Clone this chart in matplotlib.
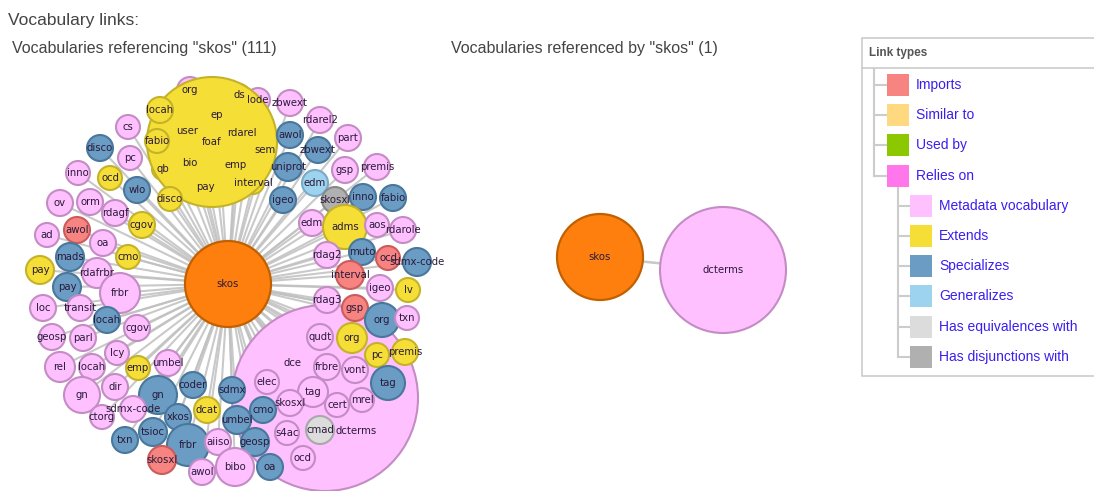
import matplotlib
matplotlib.use("Agg")
import matplotlib.pyplot as plt
from matplotlib.patches import Circle, Rectangle

# ---------------- data ----------------
title_main = "Vocabulary links:"
title_left = 'Vocabularies referencing "skos" (111)'
title_right = 'Vocabularies referenced by "skos" (1)'

legend_labels = ["Imports", "Similar to", "Used by", "Relies on",
                 "Metadata vocabulary", "Extends", "Specializes", "Generalizes",
                 "Has equivalences with", "Has disjunctions with"]
legend_level = [0, 0, 0, 0, 1, 1, 1, 1, 1, 1]
legend_kind = ["I", "S2", "U", "R", "M", "E", "S", "G", "Q", "D"]

fill = {"I": "#f78480", "S2": "#ffd97f", "U": "#8cc800", "R": "#ff77ea",
        "M": "#ffc0ff", "E": "#f5df36", "S": "#6a9cc4", "G": "#9dd3ee",
        "Q": "#dcdcdc", "D": "#b0b0b0", "O": "#ff7f0e"}
edge = {"I": "#cc5c5c", "M": "#c48cc4", "E": "#c4b22a", "S": "#4a779c",
        "G": "#7aaac6", "Q": "#a8a8a8", "D": "#888888", "O": "#c06000"}

center_label = "skos"
center_xy = (228, 284)
center_r = 43

# nodes referencing skos: label, kind, x, y, r  (drawing order)
node_label = ["org", "lode", "ds", "ep", "user", "rdarel", "sem", "bio", "emp", "qb", "pay", "interval",
              "foaf", "dce", "dcterms",
              "locah", "fabio", "disco", "cs", "disco", "pc", "inno", "ocd", "wlo", "ov", "orm",
              "rdagf", "cgov", "ad", "awol", "oa", "cmo", "mads", "pay", "rdafrbr", "pay", "frbr",
              "loc", "transit", "locah", "cgov", "geosp", "parl", "lcy", "rel", "locah", "emp",
              "umbel", "dir", "gn", "gn", "sdmx-code", "ctorg", "coder", "xkos", "tsioc", "txn",
              "frbr", "skosxl", "sdmx", "dcat", "umbel", "cmo", "aiiso", "geosp", "awol", "bibo", "oa",
              "zbwext", "rdarel2", "awol", "part", "zbwext", "uniprot", "gsp", "premis", "edm",
              "igeo", "skosxl", "inno", "fabio", "edm", "adms", "aos", "rdarole", "rdag2", "muto",
              "ocd", "sdmx-code", "interval", "igeo", "lv", "rdag3", "gsp", "org", "txn", "qudt",
              "org", "pc", "premis", "frbre", "vont", "tag", "elec", "tag", "skosxl", "cert", "mrel",
              "s4ac", "cmad", "ocd"]
node_kind = ["M", "M", "E", "E", "E", "E", "E", "E", "E", "E", "E", "E",
             "E", "M", "M",
             "E", "E", "E", "M", "S", "M", "M", "E", "S", "M", "M",
             "M", "E", "M", "I", "M", "E", "S", "E", "M", "S", "M",
             "M", "M", "S", "M", "M", "M", "M", "M", "M", "E",
             "M", "M", "M", "S", "M", "M", "S", "S", "S", "S",
             "S", "I", "S", "E", "S", "S", "M", "S", "M", "M", "S",
             "M", "M", "S", "M", "S", "S", "M", "M", "G",
             "S", "D", "S", "S", "M", "E", "M", "M", "M", "S",
             "I", "S", "I", "M", "E", "M", "I", "S", "M", "M",
             "E", "E", "E", "M", "M", "S", "M", "M", "M", "M", "M",
             "M", "Q", "M"]
node_x = [190, 258, 239, 217, 187, 242, 265, 190, 236, 163, 205, 253,
          212, 292, 325,
          160, 157, 170, 128, 100, 130, 78, 110, 137, 60, 90,
          115, 142, 47, 77, 103, 128, 70, 40, 97, 67, 120,
          43, 80, 107, 137, 52, 83, 117, 60, 92, 138,
          168, 115, 82, 158, 133, 102, 193, 178, 153, 125,
          188, 162, 232, 207, 237, 263, 218, 255, 202, 235, 270,
          290, 320, 290, 348, 318, 288, 345, 377, 315,
          283, 335, 363, 393, 312, 345, 377, 403, 327, 362,
          388, 417, 350, 380, 408, 327, 355, 382, 407, 320,
          352, 377, 405, 327, 355, 388, 267, 313, 290, 337, 362,
          287, 320, 303]
node_y = [90, 100, 95, 115, 131, 133, 150, 163, 165, 169, 187, 183,
          142, 363, 398,
          110, 141, 199, 127, 148, 158, 173, 178, 190, 203, 202,
          213, 225, 235, 230, 243, 257, 257, 270, 273, 287, 293,
          308, 308, 320, 328, 337, 338, 353, 367, 367, 368,
          363, 387, 395, 395, 409, 417, 385, 417, 432, 440,
          445, 460, 390, 410, 420, 410, 442, 442, 472, 467, 467,
          103, 120, 135, 138, 150, 167, 170, 167, 183,
          200, 200, 197, 198, 223, 227, 225, 230, 255, 252,
          258, 262, 275, 288, 290, 300, 308, 320, 318, 337,
          338, 355, 352, 367, 370, 383, 382, 392, 403, 405, 400,
          433, 430, 458]
node_r = [13, 12, 11, 11, 11, 11, 11, 11, 11, 11, 11, 11,
          65, 12, 93,
          13, 12, 12, 12, 13, 12, 12, 12, 13, 13, 13,
          13, 13, 12, 13, 13, 12, 14, 14, 15, 14, 20,
          13, 13, 13, 13, 13, 13, 12, 15, 13, 12,
          13, 13, 18, 19, 13, 12, 13, 13, 14, 13,
          21, 14, 13, 13, 14, 13, 13, 14, 13, 19, 13,
          13, 13, 13, 13, 13, 14, 13, 13, 13,
          13, 13, 13, 13, 13, 22, 12, 13, 13, 13,
          12, 14, 14, 13, 12, 13, 13, 17, 12, 13,
          15, 12, 13, 13, 13, 17, 12, 15, 13, 12, 12,
          12, 14, 12]
label_override = {14: (356, 431)}  # dcterms label position

# right panel: referenced by skos
right_center_xy = (600, 257)
right_label = ["dcterms"]
right_kind = ["M"]
right_x = [723]
right_y = [270]
right_r = [63]

# ---------------- drawing ----------------
W, H = 1094, 491
fig = plt.figure(figsize=(W / 100, H / 100), dpi=100)
ax = fig.add_axes([0, 0, 1, 1])
ax.set_xlim(0, W)
ax.set_ylim(H, 0)
ax.axis("off")

lab_font = dict(fontsize=7.3, family="DejaVu Sans", color="#2a1a3a",
                ha="center", va="center", zorder=10)

# links
for x, y in zip(node_x, node_y):
    ax.plot([center_xy[0], x], [center_xy[1], y], color="#c0c0c0", lw=1.5,
            alpha=0.85, zorder=1, solid_capstyle="butt")
for x, y in zip(right_x, right_y):
    ax.plot([right_center_xy[0], x], [right_center_xy[1], y], color="#c8c8c8",
            lw=1.8, zorder=1)

# nodes
for i, (lab, k, x, y, r) in enumerate(zip(node_label, node_kind, node_x, node_y, node_r)):
    ax.add_patch(Circle((x, y), r, facecolor=fill[k], edgecolor=edge[k],
                        lw=1.5, zorder=2 + i * 0.01))
    lx, ly = label_override.get(i, (x, y))
    ax.text(lx, ly, lab, **lab_font)

ax.add_patch(Circle(center_xy, center_r, facecolor=fill["O"], edgecolor=edge["O"],
                    lw=1.6, zorder=5))
ax.text(center_xy[0], center_xy[1], center_label, **lab_font)

ax.add_patch(Circle(right_center_xy, center_r, facecolor=fill["O"], edgecolor=edge["O"],
                    lw=1.6, zorder=5))
ax.text(right_center_xy[0], right_center_xy[1], center_label, **lab_font)
for lab, k, x, y, r in zip(right_label, right_kind, right_x, right_y, right_r):
    ax.add_patch(Circle((x, y), r, facecolor=fill[k], edgecolor=edge[k], lw=1.5, zorder=5))
    ax.text(x, y, lab, **lab_font)

# titles
ax.text(8, 20, title_main, fontsize=12.5, family="Liberation Sans", color="#444444",
        ha="left", va="center")
ax.text(12, 48, title_left, fontsize=11.5, family="Liberation Sans", color="#444444",
        ha="left", va="center")
ax.text(451, 48, title_right, fontsize=11.5, family="Liberation Sans", color="#444444",
        ha="left", va="center")

# legend box
ax.add_patch(Rectangle((862, 38), 240, 338, facecolor="white", edgecolor="#cccccc",
                       lw=1.2, zorder=20, clip_on=False))
ax.plot([862, 1094], [68, 68], color="#cccccc", lw=1.2, zorder=21)
ax.text(869, 53, "Link types", fontsize=8.5, fontweight="bold", family="Liberation Sans",
        color="#555555", ha="left", va="center", zorder=22)

row_y = [85 + 30.2 * i for i in range(len(legend_labels))]
top_rows = [y for y, lv in zip(row_y, legend_level) if lv == 0]
sub_rows = [y for y, lv in zip(row_y, legend_level) if lv == 1]
ax.plot([874, 874], [69, top_rows[-1]], color="#cccccc", lw=1.5, zorder=21)
ax.plot([898, 898], [top_rows[-1] + 12, sub_rows[-1]], color="#cccccc", lw=1.5, zorder=21)
for lab, lv, k, y in zip(legend_labels, legend_level, legend_kind, row_y):
    x0 = 887 + 23 * lv
    ax.plot([874 + 24 * lv, x0], [y, y], color="#cccccc", lw=1.5, zorder=21)
    ax.add_patch(Rectangle((x0, y - 11), 22, 22, facecolor=fill[k], edgecolor="none",
                           zorder=22))
    ax.text(x0 + 29, y, lab, fontsize=10, family="Liberation Sans", color="#3a1ef0",
            ha="left", va="center", zorder=22)

fig.savefig("out.png", dpi=100)
